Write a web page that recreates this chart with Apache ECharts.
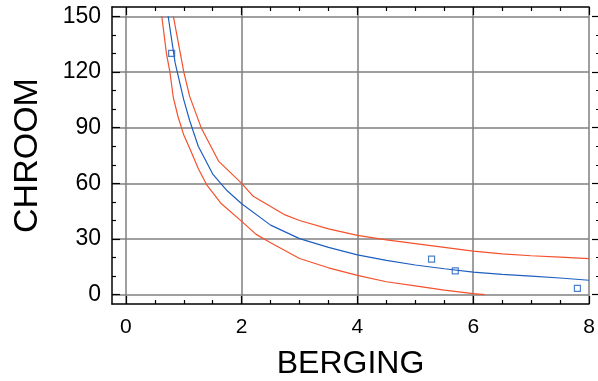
<!DOCTYPE html>
<html>
<head>
<meta charset="utf-8">
<script src="https://cdn.jsdelivr.net/npm/echarts@6/dist/echarts.min.js"></script>
<style>
  html, body { margin: 0; padding: 0; background: #fff; }
  #chart { width: 598px; height: 381px; }
</style>
</head>
<body>
<div id="chart"></div>
<script>
// fitted curve (blue) and its limits (red)
const fitLine = [
  [0.73, 150], [0.85, 125], [1.0, 105], [1.1, 94], [1.25, 80], [1.5, 65],
  [1.75, 56], [2.0, 49], [2.5, 37.5], [3.0, 30.2], [3.5, 25.5], [4.0, 21.5],
  [4.5, 18.5], [5.0, 16], [5.5, 14], [6.0, 12.2], [6.5, 11], [7.0, 10],
  [7.5, 9], [8.0, 7.8]
];
const upperLine = [
  [0.82, 150], [1.0, 120], [1.1, 107], [1.3, 90], [1.6, 72], [2.0, 60],
  [2.2, 53], [2.5, 47.5], [2.75, 43], [3.0, 40], [3.5, 35.5], [4.0, 32],
  [4.5, 29.5], [5.0, 27.5], [5.5, 25.5], [6.0, 23.5], [6.5, 22], [7.0, 21],
  [7.5, 20.2], [8.0, 19.4]
];
const lowerLine = [
  [0.62, 150], [0.7, 130], [0.76, 120], [0.82, 106], [0.9, 96], [1.0, 86],
  [1.1, 79], [1.25, 68], [1.4, 59], [1.65, 49], [2.0, 39.5], [2.25, 32.5],
  [2.5, 28], [3.0, 19.5], [3.5, 14.5], [4.0, 10.4], [4.5, 7], [5.0, 4.8],
  [5.5, 2.5], [6.0, 0.6], [6.2, 0]
];
// observations
const points = [[0.79, 130], [5.28, 19.2], [5.69, 12.8], [7.8, 3.4]];

// ticks
const xMajor = [0, 2, 4, 6, 8];
const xMinor = [0.5, 1, 1.5, 2.5, 3, 3.5, 4.5, 5, 5.5, 6.5, 7, 7.5];
const yMajor = [0, 30, 60, 90, 120, 150];
const yMinor = [10, 20, 40, 50, 70, 80, 100, 110, 130, 140];

const blue = '#1f5fbf';
const red = '#f4512c';
const font = 'Liberation Sans, Arial, sans-serif';

const chart = echarts.init(document.getElementById('chart'));

function xAxisDef(pos, ticks, len, main) {
  return {
    type: 'value', position: pos, min: -0.24, max: 8,
    axisLine: { show: main, onZero: false, lineStyle: { color: '#000', width: 1.5 } },
    axisTick: { show: true, inside: true, length: len, customValues: ticks, lineStyle: { color: '#000', width: 1.2 } },
    axisLabel: { show: false },
    splitLine: { show: false }
  };
}
function yAxisDef(pos, ticks, len, main, offset) {
  return {
    type: 'value', position: pos, min: -5, max: 155, offset: offset || 0,
    axisLine: { show: main, onZero: false, lineStyle: { color: '#000', width: 1.5 } },
    axisTick: { show: true, inside: true, length: len, customValues: ticks, lineStyle: { color: '#000', width: 1.2 } },
    axisLabel: { show: false },
    splitLine: { show: false }
  };
}

const xMain = xAxisDef('bottom', xMajor, 8, true);
xMain.axisLabel = { show: true, customValues: xMajor, fontFamily: font, fontSize: 21, color: '#000', margin: 13 };
xMain.splitLine = { show: true, lineStyle: { color: '#7f7f7f', width: 1.5 } };
xMain.name = 'BERGING';
xMain.nameLocation = 'middle';
xMain.nameGap = 44;
xMain.nameTextStyle = { fontFamily: font, fontSize: 32, color: '#000' };

const yMain = yAxisDef('left', yMajor, 8, true);
yMain.axisLabel = { show: true, customValues: yMajor, fontFamily: font, fontSize: 23, color: '#000', margin: 11 };
yMain.splitLine = { show: true, lineStyle: { color: '#7f7f7f', width: 1.5 } };
yMain.name = 'CHROOM';
yMain.nameLocation = 'middle';
yMain.nameGap = 67;
yMain.nameTextStyle = { fontFamily: font, fontSize: 34, color: '#000' };

const option = {
  animation: false,
  backgroundColor: '#fff',
  grid: { left: 112, right: 9, top: 7, bottom: 77, outerBoundsMode: 'none', containLabel: false },
  xAxis: [
    xMain,
    xAxisDef('bottom', xMinor, 4, false),
    xAxisDef('top', xMajor, 8, true),
    xAxisDef('top', xMinor, 4, false)
  ],
  yAxis: [
    yMain,
    yAxisDef('left', yMinor, 4, false),
    yAxisDef('right', yMajor, 8, false, 11),
    yAxisDef('right', yMinor, 4, false, 11)
  ],
  series: [
    {
      type: 'line', data: lowerLine, showSymbol: false, silent: true,
      lineStyle: { color: red, width: 1.2 }
    },
    {
      type: 'line', data: upperLine, showSymbol: false, silent: true,
      lineStyle: { color: red, width: 1.2 }
    },
    {
      type: 'line', data: fitLine, showSymbol: false, silent: true,
      lineStyle: { color: blue, width: 1.2 }
    },
    {
      type: 'scatter', data: points, symbol: 'rect', symbolSize: 6,
      itemStyle: { color: 'rgba(0,0,0,0)', borderColor: blue, borderWidth: 1.2 }
    }
  ]
};

chart.setOption(option);
</script>
</body>
</html>
